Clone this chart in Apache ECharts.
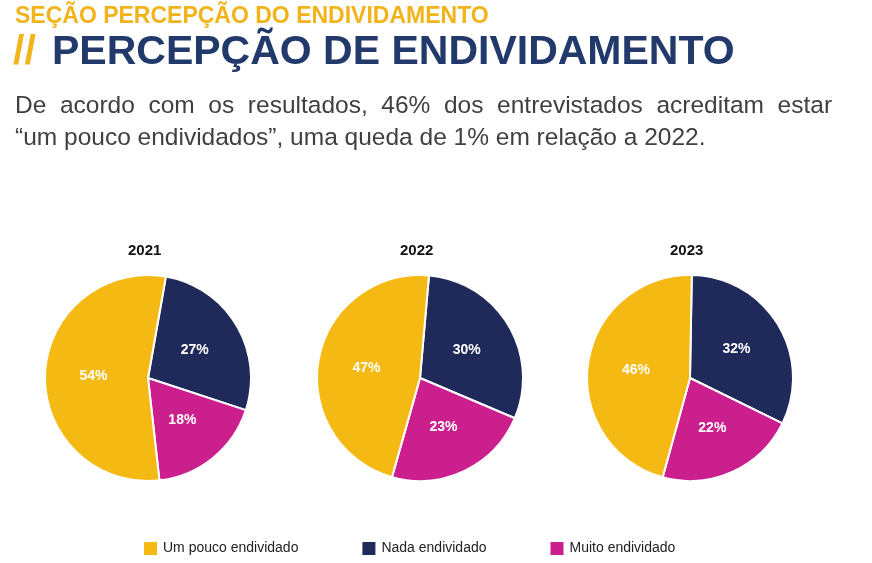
<!DOCTYPE html>
<html><head><meta charset="utf-8">
<script src="https://cdn.jsdelivr.net/npm/echarts@6/dist/echarts.min.js"></script>
<style>html,body{margin:0;padding:0;background:#fff}#c{width:872px;height:563px}</style>
</head><body><div id="c"></div>
<script>
var categories = ['Nada endividado', 'Muito endividado', 'Um pouco endividado'];
var years = ['2021', '2022', '2023'];
var nada = [27, 30, 32];
var muito = [18, 23, 22];
var umPouco = [54, 47, 46];
var startAngles = [80, 85, 89];
var colors = ['#1f2a5a', '#cc1f8e', '#f5b914'];
var centersX = [148, 420, 690];

var chart = echarts.init(document.getElementById('c'));
var font = 'Arial, "Liberation Sans", sans-serif';
var series = years.map(function (y, i) {
  return {
    type: 'pie', name: y, radius: [0, 103], center: [centersX[i], 378],
    startAngle: startAngles[i], clockwise: true, silent: true, animation: false,
    itemStyle: { borderColor: '#fff', borderWidth: 2 },
    label: { position: 'inside', formatter: '{c}%', color: '#fff', fontWeight: 'bold', fontSize: 14, fontFamily: font },
    data: [
      { name: categories[0], value: nada[i], itemStyle: { color: colors[0] } },
      { name: categories[1], value: muito[i], itemStyle: { color: colors[1] } },
      { name: categories[2], value: umPouco[i], itemStyle: { color: colors[2] } }
    ]
  };
});
var yearTexts = years.map(function (y, i) {
  return { type: 'text', left: centersX[i] - 20, top: 243, style: { text: y, font: 'bold 15px ' + font, fill: '#111' } };
});
chart.setOption({
  color: colors,
  legend: {
    top: 535, left: 137, itemWidth: 15, itemHeight: 15, itemGap: 62, icon: 'rect',
    data: [categories[2], categories[0], categories[1]],
    textStyle: { fontSize: 14, color: '#222', fontFamily: font }
  },
  graphic: [
    { type: 'text', left: 15, top: 5, style: { text: 'SEÇÃO PERCEPÇÃO DO ENDIVIDAMENTO', font: 'bold 23px ' + font, fill: '#f3b31b' } },
    { type: 'text', left: 13, top: 32, style: { text: '//', font: 'bold 41px ' + font, fill: '#f3b31b' } },
    { type: 'text', left: 52, top: 32, style: { text: 'PERCEPÇÃO DE ENDIVIDAMENTO', font: 'bold 41px ' + font, fill: '#213a6b' } },
    { type: 'text', left: 15, top: 94, style: { text: 'De  acordo  com  os  resultados,  46%  dos  entrevistados  acreditam  estar', font: '24.5px ' + font, fill: '#404040' } },
    { type: 'text', left: 15, top: 126, style: { text: '“um pouco endividados”, uma queda de 1% em relação a 2022.', font: '24.5px ' + font, fill: '#404040' } }
  ].concat(yearTexts),
  series: series
});
</script></body></html>
